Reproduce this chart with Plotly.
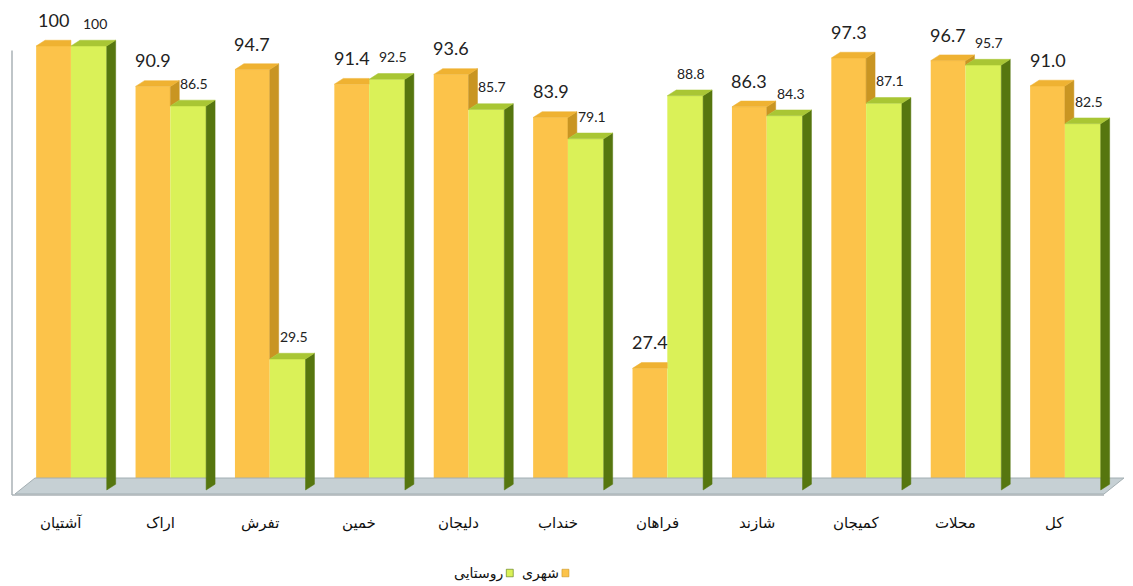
import plotly.graph_objects as go

# Counties and share values (%) for urban (شهری) and rural (روستایی) areas
categories = ["آشتیان", "اراک", "تفرش", "خمین", "دلیجان", "خنداب",
              "فراهان", "شازند", "کمیجان", "محلات", "کل"]
urban = [100, 90.9, 94.7, 91.4, 93.6, 83.9, 27.4, 86.3, 97.3, 96.7, 91.0]
rural = [100, 86.5, 29.5, 92.5, 85.7, 79.1, 88.8, 84.3, 87.1, 95.7, 82.5]
series_names = ["شهری", "روستایی"]

# bar geometry (x in category units, y in value units)
OFF_U, W_U = -0.25, 0.35      # urban front face
OFF_R, W_R = 0.10, 0.36       # rural front face
DX, DY = 0.09, 1.3            # 3-D depth offset

C_U_FRONT, C_U_TOP, C_U_SIDE = "#FCC34A", "#EFB232", "#C99522"
C_R_FRONT, C_R_TOP, C_R_SIDE = "#DAF158", "#A9C634", "#56760F"

def fmt(v):
    return "100" if v == 100 else f"{v:.1f}"

x = list(range(len(categories)))
fig = go.Figure()

# floor
fig.add_trace(go.Scatter(
    x=[-0.463, -0.262, 10.694, 10.493, -0.463], y=[-0.9, 2.7, 2.7, -0.9, -0.9],
    mode="lines", fill="toself", fillcolor="#C6D0D4",
    line=dict(color="#A3AEB2", width=1), hoverinfo="skip", showlegend=False))

# front faces
fig.add_trace(go.Bar(x=x, y=urban, offset=OFF_U, width=W_U, name=series_names[0],
                     marker=dict(color=C_U_FRONT, line=dict(width=0)), showlegend=False))
fig.add_trace(go.Bar(x=x, y=rural, offset=OFF_R, width=W_R, name=series_names[1],
                     marker=dict(color=C_R_FRONT, line=dict(width=0)), showlegend=False))

def poly(px, py, color):
    fig.add_trace(go.Scatter(x=px + [px[0]], y=py + [py[0]], mode="lines", fill="toself",
                             fillcolor=color, line=dict(color=color, width=0.5),
                             hoverinfo="skip", showlegend=False))

# urban side and top faces, clipped behind the rural front face
for i, (u, r) in enumerate(zip(urban, rural)):
    L, R = i + OFF_U, i + OFF_U + W_U
    g = min(u, r)
    if u > r:
        poly([R, R + DX, R + DX, R], [g, g + DY, u + DY, u], C_U_SIDE)
        poly([L, L + DX, R + DX, R], [u, u + DY, u + DY, u], C_U_TOP)
    else:
        poly([L, L + DX, R, R], [u, u + DY, u + DY, u], C_U_TOP)

# rural side and top faces
for i, r in enumerate(rural):
    L, R = i + OFF_R, i + OFF_R + W_R
    poly([R, R + DX, R + DX, R], [0, DY, r + DY, r], C_R_SIDE)
    poly([L, L + DX, R + DX, R], [r, r + DY, r + DY, r], C_R_TOP)

# value labels
for i, (u, r) in enumerate(zip(urban, rural)):
    fig.add_annotation(x=i + OFF_U + W_U / 2, y=u, text=fmt(u), showarrow=False,
                       yanchor="bottom", yshift=13,
                       font=dict(family="Lato, Open Sans, sans-serif", size=18, color="#222222"))
    fig.add_annotation(x=i + OFF_R + W_R / 2 + 0.06, y=r, text=fmt(r), showarrow=False,
                       yanchor="bottom", yshift=12,
                       font=dict(family="Lato, Open Sans, sans-serif", size=14, color="#222222"))

# category labels
for i, c in enumerate(categories):
    fig.add_annotation(x=i, y=-7.4, text=c, showarrow=False, yanchor="middle",
                       font=dict(family="DejaVu Sans", size=15, color="#111111"))

# frame lines
shapes = [
    dict(type="line", x0=-0.493, x1=-0.493, y0=99, y1=-1.13, line=dict(color="#AAB2B6", width=1.5)),
    dict(type="line", x0=-0.493, x1=10.493, y0=-1.13, y1=-1.13, line=dict(color="#AAB2B6", width=1.5)),
]

# legend (right to left): orange square + شهری, green square + روستایی
leg_y = -18.7
shapes.append(dict(type="rect", x0=5.04, x1=5.11, y0=leg_y - 0.85, y1=leg_y + 0.85,
                   fillcolor=C_U_FRONT, line=dict(color="#C99522", width=0.6)))
shapes.append(dict(type="rect", x0=4.48, x1=4.55, y0=leg_y - 0.85, y1=leg_y + 0.85,
                   fillcolor=C_R_FRONT, line=dict(color="#56760F", width=0.6)))
fig.add_annotation(x=5.03, y=leg_y, text=series_names[0], showarrow=False, xanchor="right",
                   font=dict(family="DejaVu Sans", size=14, color="#111111"))
fig.add_annotation(x=4.47, y=leg_y, text=series_names[1], showarrow=False, xanchor="right",
                   font=dict(family="DejaVu Sans", size=14, color="#111111"))

fig.update_layout(
    width=1133, height=586, margin=dict(l=0, r=0, t=0, b=0),
    paper_bgcolor="white", plot_bgcolor="white",
    barmode="overlay", showlegend=False, shapes=shapes,
    xaxis=dict(range=[-0.6137, 10.785], visible=False, fixedrange=True),
    yaxis=dict(range=[-21.62, 110.36], visible=False, fixedrange=True),
)

fig.write_html("out.html")
